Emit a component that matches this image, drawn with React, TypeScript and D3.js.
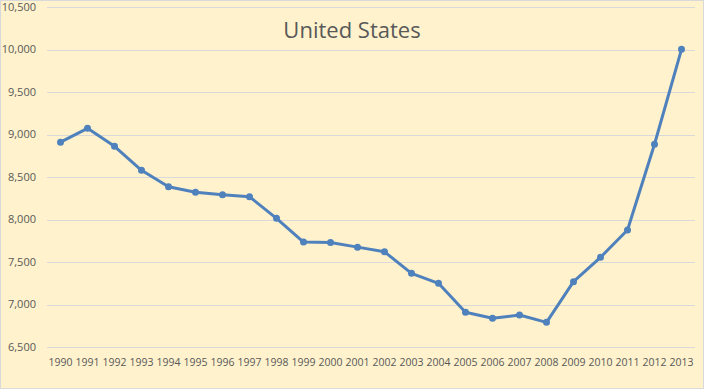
import React, { useEffect, useRef } from "react";
import * as d3 from "d3";

const years = [
  "1990", "1991", "1992", "1993", "1994", "1995", "1996", "1997", "1998", "1999", "2000", "2001",
  "2002", "2003", "2004", "2005", "2006", "2007", "2008", "2009", "2010", "2011", "2012", "2013",
];
const production = [
  8910, 9073, 8861, 8579, 8386, 8320, 8292, 8268, 8014, 7735, 7730, 7675,
  7620, 7367, 7249, 6908, 6838, 6876, 6790, 7269, 7555, 7876, 8885, 10002,
];
const yTicks = [6500, 7000, 7500, 8000, 8500, 9000, 9500, 10000, 10500];
const title = "United States";

const W = 704;
const H = 389;
const font = "Open Sans, Noto Sans, sans-serif";

const App = () => {
  const ref = useRef<SVGSVGElement>(null);

  useEffect(() => {
    const svg = d3.select(ref.current);
    svg.selectAll("*").remove();

    const margin = { top: 7, right: 9, bottom: 42, left: 47 };

    const x = d3
      .scaleBand()
      .domain(years)
      .range([margin.left, W - margin.right]);
    const y = d3
      .scaleLinear()
      .domain([6500, 10500])
      .range([H - margin.bottom, margin.top]);

    // background + border
    svg
      .append("rect")
      .attr("x", 0.5)
      .attr("y", 0.5)
      .attr("width", W - 1)
      .attr("height", H - 1)
      .attr("fill", "#FFF2CC")
      .attr("stroke", "#D9D9D9");

    // gridlines
    svg
      .append("g")
      .selectAll("line")
      .data(yTicks)
      .join("line")
      .attr("x1", margin.left)
      .attr("x2", W - margin.right)
      .attr("y1", (d) => Math.round(y(d)) + 0.5)
      .attr("y2", (d) => Math.round(y(d)) + 0.5)
      .attr("stroke", "#D9D9D9")
      .attr("stroke-width", 1);

    // y labels
    svg
      .append("g")
      .selectAll("text")
      .data(yTicks)
      .join("text")
      .attr("x", 36)
      .attr("y", (d) => y(d))
      .attr("dy", "0.35em")
      .attr("text-anchor", "end")
      .attr("font-family", font)
      .attr("font-size", 11)
      .attr("fill", "#595959")
      .text((d) => d3.format(",")(d));

    // x labels
    svg
      .append("g")
      .selectAll("text")
      .data(years)
      .join("text")
      .attr("x", (d) => x(d)! + x.bandwidth() / 2)
      .attr("y", H - margin.bottom + 15)
      .attr("dy", "0.35em")
      .attr("text-anchor", "middle")
      .attr("font-family", font)
      .attr("font-size", 10.5)
      .attr("fill", "#595959")
      .text((d) => d);

    const cx = (i: number) => x(years[i])! + x.bandwidth() / 2;

    const line = d3
      .line<number>()
      .x((d, i) => cx(i))
      .y((d) => y(d));

    svg
      .append("path")
      .datum(production)
      .attr("d", line)
      .attr("fill", "none")
      .attr("stroke", "#4F81BD")
      .attr("stroke-width", 3)
      .attr("stroke-linejoin", "round");

    svg
      .append("g")
      .selectAll("circle")
      .data(production)
      .join("circle")
      .attr("cx", (d, i) => cx(i))
      .attr("cy", (d) => y(d))
      .attr("r", 3.5)
      .attr("fill", "#4F81BD");

    svg
      .append("text")
      .attr("x", W / 2)
      .attr("y", 30)
      .attr("dy", "0.35em")
      .attr("text-anchor", "middle")
      .attr("font-family", font)
      .attr("font-size", 22)
      .attr("fill", "#595959")
      .text(title);
  }, []);

  return (
    <div>
      <style>{`body{margin:0}`}</style>
      <svg ref={ref} width={W} height={H} style={{ display: "block" }} />
    </div>
  );
};

export default App;
